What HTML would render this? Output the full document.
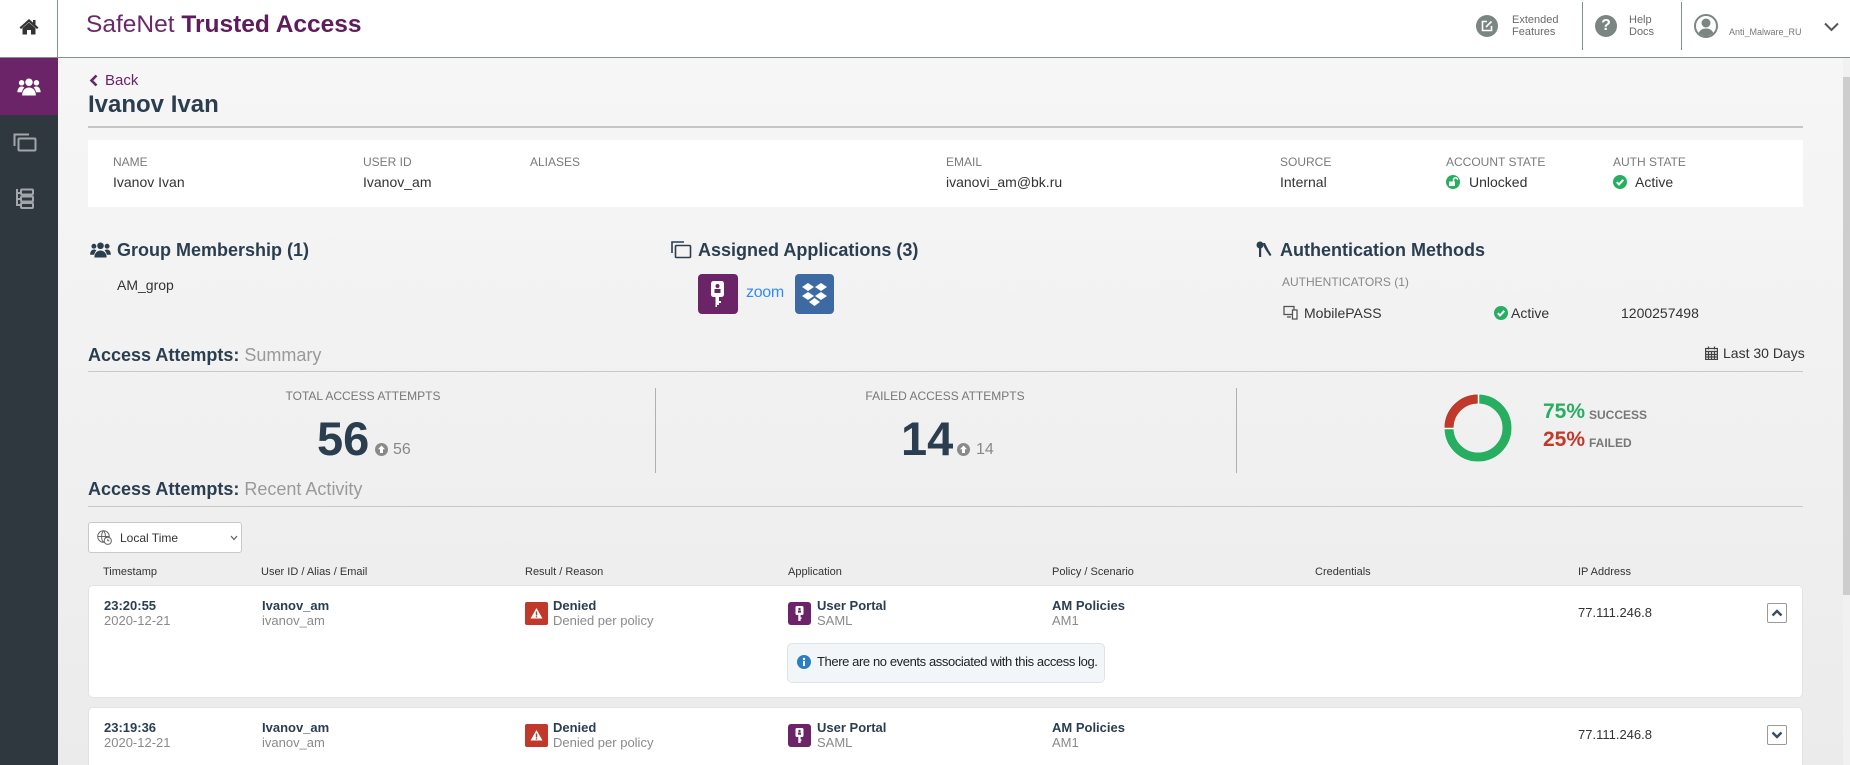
<!DOCTYPE html>
<html><head><meta charset="utf-8"><style>
*{margin:0;padding:0;box-sizing:border-box}
html,body{width:1850px;height:765px;overflow:hidden}
body{position:relative;font-family:"Liberation Sans",Arial,sans-serif;background:linear-gradient(#f6f6f6 58px,#f2f2f2 330px,#ebebeb 765px);color:#333}
.a{position:absolute}
.t{position:absolute;white-space:nowrap;line-height:20px}
.lbl{font-size:12px;color:#7a7a7a;top:152px}
.val{font-size:14px;color:#333;top:172px}
.h{font-size:18px;font-weight:bold;color:#2b3e50;line-height:24px}
.th{font-size:11px;color:#333;top:562px}
.b1{font-size:13px;font-weight:bold;color:#2b3e50;line-height:16px}
.g1{font-size:13px;color:#8a8a8a;line-height:16px}
.card{position:absolute;left:88px;width:1715px;background:#fff;border:1px solid #e3e3e3;border-radius:5px}
.btn{position:absolute;left:1767px;width:20px;height:20px;border:1px solid #9a9a9a;border-radius:2px;background:#fff}
</style></head><body>

<!-- header -->
<div class="a" style="left:0;top:0;width:1850px;height:58px;background:#fff;border-bottom:1px solid #84918f"></div>
<div class="a" style="left:57px;top:0;width:1px;height:58px;background:#84918f"></div>
<svg class="a" style="left:19px;top:18px" width="20" height="17" viewBox="0 0 20 17"><path d="M10 1 L0.5 9.5 L2 11 L10 4 L18 11 L19.5 9.5 Z" fill="#333"/><path d="M3.5 10 L10 4.5 L16.5 10 V16.5 H12 V12 H8 V16.5 H3.5 Z" fill="#333"/><rect x="14" y="2" width="2.5" height="5" fill="#333"/></svg>
<div class="t" style="left:86px;top:11px;font-size:24.5px;line-height:28px;color:#6a2a68">SafeNet <b style="color:#5f1b5c">Trusted Access</b></div>

<div class="a" style="left:1476px;top:15px;width:22px;height:22px;border-radius:50%;background:#7b8582"></div>
<svg class="a" style="left:1481px;top:20px" width="12" height="12" viewBox="0 0 12 12" fill="none" stroke="#fff" stroke-width="1.6"><path d="M6 1.5H1.5V10.5H10.5V6"/><path d="M5 7L10.5 1.5"/></svg>
<div class="t" style="left:1512px;top:14px;font-size:11px;line-height:12px;color:#6a6a6a">Extended</div>
<div class="t" style="left:1512px;top:26px;font-size:11px;line-height:12px;color:#6a6a6a">Features</div>
<div class="a" style="left:1582px;top:2px;width:1px;height:48px;background:#84918f"></div>
<div class="a" style="left:1595px;top:15px;width:22px;height:22px;border-radius:50%;background:#7b8582;color:#fff;font-weight:bold;font-size:16px;line-height:22px;text-align:center">?</div>
<div class="t" style="left:1629px;top:14px;font-size:11px;line-height:12px;color:#6a6a6a">Help</div>
<div class="t" style="left:1629px;top:26px;font-size:11px;line-height:12px;color:#6a6a6a">Docs</div>
<div class="a" style="left:1681px;top:2px;width:1px;height:48px;background:#84918f"></div>
<svg class="a" style="left:1694px;top:14px" width="24" height="24" viewBox="0 0 24 24"><circle cx="12" cy="12" r="11" fill="none" stroke="#7b8582" stroke-width="2"/><circle cx="12" cy="9" r="4.5" fill="#7b8582"/><path d="M4.5 19.5C6 15.5 9 14.5 12 14.5S18 15.5 19.5 19.5L12 23Z" fill="#7b8582"/></svg>
<div class="t" style="left:1729px;top:26px;font-size:9px;line-height:12px;color:#777">Anti_Malware_RU</div>
<svg class="a" style="left:1824px;top:22px" width="15" height="10" viewBox="0 0 15 10"><polyline points="1,1.5 7.5,8 14,1.5" fill="none" stroke="#555" stroke-width="2"/></svg>

<!-- sidebar -->
<div class="a" style="left:0;top:58px;width:58px;height:707px;background:#2f373f"></div>
<div class="a" style="left:0;top:58px;width:58px;height:57px;background:#6b2467"></div>
<svg class="a" style="left:17px;top:78px" width="24" height="18" viewBox="0 0 22 17" fill="#fff"><circle cx="11" cy="4" r="3.5"/><circle cx="4" cy="4.5" r="2.6"/><circle cx="18" cy="4.5" r="2.6"/><path d="M4.5 16.5c0-4.5 2.8-7.5 6.5-7.5s6.5 3 6.5 7.5z"/><path d="M0 13.5c0-3 1.5-5.5 4-5.5 1 0 2 .3 2.6 1-1.3 1.3-2 2.8-2.3 4.5z"/><path d="M22 13.5c0-3-1.5-5.5-4-5.5-1 0-2 .3-2.6 1 1.3 1.3 2 2.8 2.3 4.5z"/></svg>
<svg class="a" style="left:13px;top:133px" width="24" height="19" viewBox="0 0 24 19" fill="none" stroke="#a2a6aa" stroke-width="2"><path d="M1.5 13V1.5H16"/><rect x="5.5" y="5.5" width="17" height="12" rx="1"/></svg>
<svg class="a" style="left:15px;top:188px" width="20" height="21" viewBox="0 0 20 21" fill="none" stroke="#a2a6aa" stroke-width="2"><path d="M2 1V18M2 5H6M2 11H6M2 17H6"/><rect x="6" y="1.5" width="12" height="5" rx="1"/><rect x="6" y="8.5" width="12" height="5" rx="1"/><rect x="6" y="15" width="12" height="5" rx="1"/></svg>

<!-- scrollbar -->
<div class="a" style="left:1843px;top:58px;width:7px;height:707px;background:#f1f1f1"></div>
<div class="a" style="left:1843px;top:77px;width:7px;height:518px;background:#cdcdcd"></div>

<!-- back + name -->
<svg class="a" style="left:89px;top:74px" width="9" height="13" viewBox="0 0 9 13"><polyline points="7.5,1.5 2.5,6.5 7.5,11.5" fill="none" stroke="#6b2467" stroke-width="2.6"/></svg>
<div class="t" style="left:105px;top:71px;font-size:15px;color:#6b2467">Back</div>
<div class="t" style="left:88px;top:90px;font-size:24px;line-height:30px;font-weight:bold;color:#2b3e50">Ivanov Ivan</div>
<div class="a" style="left:88px;top:126px;width:1715px;height:2px;background:#c6c6c6"></div>

<!-- info card -->
<div class="a" style="left:88px;top:140px;width:1715px;height:67px;background:#fff"></div>
<div class="t lbl" style="left:113px">NAME</div>
<div class="t lbl" style="left:363px">USER ID</div>
<div class="t lbl" style="left:530px">ALIASES</div>
<div class="t lbl" style="left:946px">EMAIL</div>
<div class="t lbl" style="left:1280px">SOURCE</div>
<div class="t lbl" style="left:1446px">ACCOUNT STATE</div>
<div class="t lbl" style="left:1613px">AUTH STATE</div>
<div class="t val" style="left:113px">Ivanov Ivan</div>
<div class="t val" style="left:363px">Ivanov_am</div>
<div class="t val" style="left:946px">ivanovi_am@bk.ru</div>
<div class="t val" style="left:1280px">Internal</div>
<svg class="a" style="left:1446px;top:175px" width="14" height="14" viewBox="0 0 14 14"><circle cx="7" cy="7" r="7" fill="#27ae60"/><rect x="3" y="6.5" width="6" height="4.5" fill="#fff"/><path d="M7.5 6.5V4.8a2 2 0 0 1 4 0" fill="none" stroke="#fff" stroke-width="1.5"/></svg>
<div class="t val" style="left:1469px">Unlocked</div>
<svg class="a" style="left:1613px;top:175px" width="14" height="14" viewBox="0 0 14 14"><circle cx="7" cy="7" r="7" fill="#27ae60"/><polyline points="3.8,7.2 6,9.4 10.3,4.8" fill="none" stroke="#fff" stroke-width="2"/></svg>
<div class="t val" style="left:1635px">Active</div>

<!-- section headings -->
<svg class="a" style="left:90px;top:242px" width="21" height="16" viewBox="0 0 22 17" fill="#2b3e50"><circle cx="11" cy="4" r="3.5"/><circle cx="4" cy="4.5" r="2.6"/><circle cx="18" cy="4.5" r="2.6"/><path d="M4.5 16.5c0-4.5 2.8-7.5 6.5-7.5s6.5 3 6.5 7.5z"/><path d="M0 13.5c0-3 1.5-5.5 4-5.5 1 0 2 .3 2.6 1-1.3 1.3-2 2.8-2.3 4.5z"/><path d="M22 13.5c0-3-1.5-5.5-4-5.5-1 0-2 .3-2.6 1 1.3 1.3 2 2.8 2.3 4.5z"/></svg>
<div class="t h" style="left:117px;top:238px">Group Membership (1)</div>
<div class="t" style="left:117px;top:275px;font-size:14px;color:#333">AM_grop</div>

<svg class="a" style="left:671px;top:241px" width="21" height="18" viewBox="0 0 21 18" fill="none" stroke="#2b3e50" stroke-width="1.6"><path d="M1 12V1H13"/><rect x="4.5" y="4.5" width="15" height="12" rx="1"/></svg>
<div class="t h" style="left:698px;top:238px">Assigned Applications (3)</div>
<div class="a" style="left:698px;top:274px;width:40px;height:40px;border-radius:4px;background:#6b2467"></div>
<svg class="a" style="left:698px;top:274px" width="40" height="40" viewBox="0 0 40 40"><rect x="13" y="7" width="13" height="16" rx="2.5" fill="#fff"/><circle cx="19.5" cy="12" r="2" fill="#6b2467"/><rect x="16.5" y="15" width="6" height="4" fill="#6b2467"/><path d="M17.5 23H21V27H23V29H21V31H19V33H17.5Z" fill="#fff"/></svg>
<div class="t" style="left:746px;top:283px;font-size:16px;color:#2d8cff;letter-spacing:-0.3px">zoom</div>
<div class="a" style="left:795px;top:274px;width:39px;height:40px;border-radius:4px;background:#3d6aa3"></div>
<svg class="a" style="left:795px;top:274px" width="39" height="40" viewBox="0 0 39 40" fill="#fff"><polygon points="13,9 19,13 13,17 7,13"/><polygon points="26,9 32,13 26,17 20,13"/><polygon points="13,18 19,22 13,26 7,22"/><polygon points="26,18 32,22 26,26 20,22"/><polygon points="19.5,24 25,28 19.5,32 14,28"/></svg>

<svg class="a" style="left:1256px;top:241px" width="16" height="17" viewBox="0 0 16 17" fill="#2b3e50"><circle cx="4" cy="4" r="3.5"/><rect x="3" y="6" width="2.2" height="10"/><path d="M7 2L9 2L12.5 9L15.5 14L13.8 15L10 9.5L8 6Z"/></svg>
<div class="t h" style="left:1280px;top:238px">Authentication Methods</div>
<div class="t" style="left:1282px;top:272px;font-size:12px;color:#888">AUTHENTICATORS (1)</div>
<svg class="a" style="left:1283px;top:305px" width="15" height="15" viewBox="0 0 15 15" fill="none" stroke="#555" stroke-width="1.3"><rect x="1" y="1.5" width="10" height="8"/><path d="M4 12H8"/><rect x="9.5" y="5" width="4.5" height="9" fill="#fff"/></svg>
<div class="t" style="left:1304px;top:303px;font-size:14px;color:#333">MobilePASS</div>
<svg class="a" style="left:1494px;top:306px" width="14" height="14" viewBox="0 0 14 14"><circle cx="7" cy="7" r="7" fill="#27ae60"/><polyline points="3.8,7.2 6,9.4 10.3,4.8" fill="none" stroke="#fff" stroke-width="2"/></svg>
<div class="t" style="left:1511px;top:303px;font-size:14px;color:#333">Active</div>
<div class="t" style="left:1621px;top:303px;font-size:14px;color:#333">1200257498</div>

<!-- summary -->
<div class="t h" style="left:88px;top:343px">Access Attempts: <span style="font-weight:normal;color:#9a9a9a">Summary</span></div>
<svg class="a" style="left:1705px;top:346px" width="13" height="14" viewBox="0 0 13 14" fill="none" stroke="#444" stroke-width="1.2"><rect x="0.6" y="2.5" width="11.8" height="11"/><path d="M0.6 5.5H12.4M3.5 0.5V3.5M9.5 0.5V3.5M3.5 5.5V13.5M6.5 5.5V13.5M9.5 5.5V13.5M0.6 8.5H12.4M0.6 11H12.4"/></svg>
<div class="t" style="left:1723px;top:343px;font-size:14px;color:#333">Last 30 Days</div>
<div class="a" style="left:88px;top:371px;width:1715px;height:1px;background:#c8c8c8"></div>

<div class="a" style="left:655px;top:388px;width:1px;height:85px;background:#b0b0b0"></div>
<div class="a" style="left:1236px;top:388px;width:1px;height:85px;background:#b0b0b0"></div>

<div class="t" style="left:263px;width:200px;text-align:center;top:386px;font-size:12px;color:#777">TOTAL ACCESS ATTEMPTS</div>
<div class="t" style="left:317px;top:414px;font-size:47px;line-height:50px;font-weight:bold;color:#2b3e50">56</div>
<svg class="a" style="left:375px;top:443px" width="13" height="13" viewBox="0 0 13 13"><circle cx="6.5" cy="6.5" r="6.5" fill="#8a8a8a"/><path d="M6.5 2.5L10 6.3H8V10H5V6.3H3Z" fill="#fff"/></svg>
<div class="t" style="left:393px;top:440px;font-size:16px;color:#888">56</div>

<div class="t" style="left:845px;width:200px;text-align:center;top:386px;font-size:12px;color:#777">FAILED ACCESS ATTEMPTS</div>
<div class="t" style="left:901px;top:414px;font-size:47px;line-height:50px;font-weight:bold;color:#2b3e50">14</div>
<svg class="a" style="left:957px;top:443px" width="13" height="13" viewBox="0 0 13 13"><circle cx="6.5" cy="6.5" r="6.5" fill="#8a8a8a"/><path d="M6.5 2.5L10 6.3H8V10H5V6.3H3Z" fill="#fff"/></svg>
<div class="t" style="left:976px;top:440px;font-size:16px;color:#888">14</div>

<svg class="a" style="left:1444px;top:394px" width="68" height="68" viewBox="0 0 68 68">
<circle cx="34" cy="34" r="33.5" fill="none" stroke="#fff" stroke-width="1"/>
<circle cx="34" cy="34" r="29" fill="none" stroke="#27ae60" stroke-width="9"/>
<circle cx="34" cy="34" r="29" fill="none" stroke="#c0392b" stroke-width="9" stroke-dasharray="45.55 200" transform="rotate(180 34 34)"/>
<line x1="34.5" y1="0" x2="34.5" y2="10" stroke="#fff" stroke-width="1.5"/>
<line x1="0" y1="34.5" x2="10" y2="34.5" stroke="#fff" stroke-width="1.5"/>
</svg>
<div class="t" style="left:1543px;top:400px;font-size:21px;line-height:24px;font-weight:bold;color:#27ae60">75%</div>
<div class="t" style="left:1589px;top:405px;font-size:12px;font-weight:bold;color:#777">SUCCESS</div>
<div class="t" style="left:1543px;top:428px;font-size:21px;line-height:24px;font-weight:bold;color:#c0392b">25%</div>
<div class="t" style="left:1589px;top:433px;font-size:12px;font-weight:bold;color:#777">FAILED</div>

<!-- recent activity -->
<div class="t h" style="left:88px;top:477px">Access Attempts: <span style="font-weight:normal;color:#9a9a9a">Recent Activity</span></div>
<div class="a" style="left:88px;top:506px;width:1715px;height:1px;background:#c8c8c8"></div>

<div class="a" style="left:88px;top:522px;width:154px;height:31px;background:#fff;border:1px solid #c9c9c9;border-radius:3px"></div>
<svg class="a" style="left:97px;top:530px" width="15" height="15" viewBox="0 0 15 15" fill="none" stroke="#666" stroke-width="1"><circle cx="6.5" cy="6.5" r="5.8"/><path d="M0.7 6.5H12.3M6.5 0.7C4 3 4 10 6.5 12.3M6.5 0.7C9 3 9 10 6.5 12.3"/><circle cx="10.8" cy="10.8" r="3.6" fill="#fff"/><path d="M10.8 8.8V10.8H12.3"/></svg>
<div class="t" style="left:120px;top:528px;font-size:12px;color:#333">Local Time</div>
<svg class="a" style="left:230px;top:535px" width="8" height="6" viewBox="0 0 8 6"><polyline points="1,1 4,4.5 7,1" fill="none" stroke="#666" stroke-width="1.3"/></svg>

<div class="t th" style="left:103px">Timestamp</div>
<div class="t th" style="left:261px">User ID / Alias / Email</div>
<div class="t th" style="left:525px">Result / Reason</div>
<div class="t th" style="left:788px">Application</div>
<div class="t th" style="left:1052px">Policy / Scenario</div>
<div class="t th" style="left:1315px">Credentials</div>
<div class="t th" style="left:1578px">IP Address</div>

<!-- row 1 -->
<div class="card" style="top:585px;height:113px"></div>
<div class="t b1" style="left:104px;top:598px">23:20:55</div>
<div class="t g1" style="left:104px;top:613px">2020-12-21</div>
<div class="t b1" style="left:262px;top:598px">Ivanov_am</div>
<div class="t g1" style="left:262px;top:613px">ivanov_am</div>
<div class="a" style="left:525px;top:602px;width:23px;height:23px;border-radius:2px;background:#c0392b"></div>
<svg class="a" style="left:525px;top:602px" width="23" height="23" viewBox="0 0 23 23"><path d="M11.5 6L17.5 16.5H5.5Z" fill="#fff"/><rect x="10.8" y="9.5" width="1.4" height="4" fill="#c0392b"/><rect x="10.8" y="14.2" width="1.4" height="1.3" fill="#c0392b"/></svg>
<div class="t b1" style="left:553px;top:598px">Denied</div>
<div class="t g1" style="left:553px;top:613px">Denied per policy</div>
<div class="a" style="left:788px;top:602px;width:23px;height:23px;border-radius:3px;background:#6b2467"></div>
<svg class="a" style="left:788px;top:602px" width="23" height="23" viewBox="0 0 23 23"><rect x="7.5" y="4" width="8" height="9" rx="1.5" fill="#fff"/><circle cx="11.5" cy="7" r="1.2" fill="#6b2467"/><rect x="10" y="8.5" width="3" height="2.2" fill="#6b2467"/><path d="M10.3 13H12.6V15.5H13.6V16.7H12.6V19H10.3Z" fill="#fff"/></svg>
<div class="t b1" style="left:817px;top:598px">User Portal</div>
<div class="t g1" style="left:817px;top:613px">SAML</div>
<div class="t b1" style="left:1052px;top:598px">AM Policies</div>
<div class="t g1" style="left:1052px;top:613px">AM1</div>
<div class="t" style="left:1578px;top:603px;font-size:13px;color:#333">77.111.246.8</div>
<div class="btn" style="top:603px"></div>
<svg class="a" style="left:1771px;top:609px" width="12" height="8" viewBox="0 0 12 8"><polyline points="1.5,6.5 6,2 10.5,6.5" fill="none" stroke="#3a4d60" stroke-width="2.4"/></svg>
<div class="a" style="left:787px;top:643px;width:318px;height:40px;background:#f3f6f9;border:1px solid #dde3ea;border-radius:5px"></div>
<svg class="a" style="left:797px;top:655px" width="14" height="14" viewBox="0 0 14 14"><circle cx="7" cy="7" r="7" fill="#2a7fc4"/><rect x="6" y="6" width="2" height="5" fill="#fff"/><circle cx="7" cy="4" r="1.2" fill="#fff"/></svg>
<div class="t" style="left:817px;top:652px;font-size:13px;letter-spacing:-0.4px;color:#222">There are no events associated with this access log.</div>

<!-- row 2 -->
<div class="card" style="top:707px;height:80px"></div>
<div class="t b1" style="left:104px;top:720px">23:19:36</div>
<div class="t g1" style="left:104px;top:735px">2020-12-21</div>
<div class="t b1" style="left:262px;top:720px">Ivanov_am</div>
<div class="t g1" style="left:262px;top:735px">ivanov_am</div>
<div class="a" style="left:525px;top:724px;width:23px;height:23px;border-radius:2px;background:#c0392b"></div>
<svg class="a" style="left:525px;top:724px" width="23" height="23" viewBox="0 0 23 23"><path d="M11.5 6L17.5 16.5H5.5Z" fill="#fff"/><rect x="10.8" y="9.5" width="1.4" height="4" fill="#c0392b"/><rect x="10.8" y="14.2" width="1.4" height="1.3" fill="#c0392b"/></svg>
<div class="t b1" style="left:553px;top:720px">Denied</div>
<div class="t g1" style="left:553px;top:735px">Denied per policy</div>
<div class="a" style="left:788px;top:724px;width:23px;height:23px;border-radius:3px;background:#6b2467"></div>
<svg class="a" style="left:788px;top:724px" width="23" height="23" viewBox="0 0 23 23"><rect x="7.5" y="4" width="8" height="9" rx="1.5" fill="#fff"/><circle cx="11.5" cy="7" r="1.2" fill="#6b2467"/><rect x="10" y="8.5" width="3" height="2.2" fill="#6b2467"/><path d="M10.3 13H12.6V15.5H13.6V16.7H12.6V19H10.3Z" fill="#fff"/></svg>
<div class="t b1" style="left:817px;top:720px">User Portal</div>
<div class="t g1" style="left:817px;top:735px">SAML</div>
<div class="t b1" style="left:1052px;top:720px">AM Policies</div>
<div class="t g1" style="left:1052px;top:735px">AM1</div>
<div class="t" style="left:1578px;top:725px;font-size:13px;color:#333">77.111.246.8</div>
<div class="btn" style="top:725px"></div>
<svg class="a" style="left:1771px;top:731px" width="12" height="8" viewBox="0 0 12 8"><polyline points="1.5,1.5 6,6 10.5,1.5" fill="none" stroke="#3a4d60" stroke-width="2.4"/></svg>

</body></html>
